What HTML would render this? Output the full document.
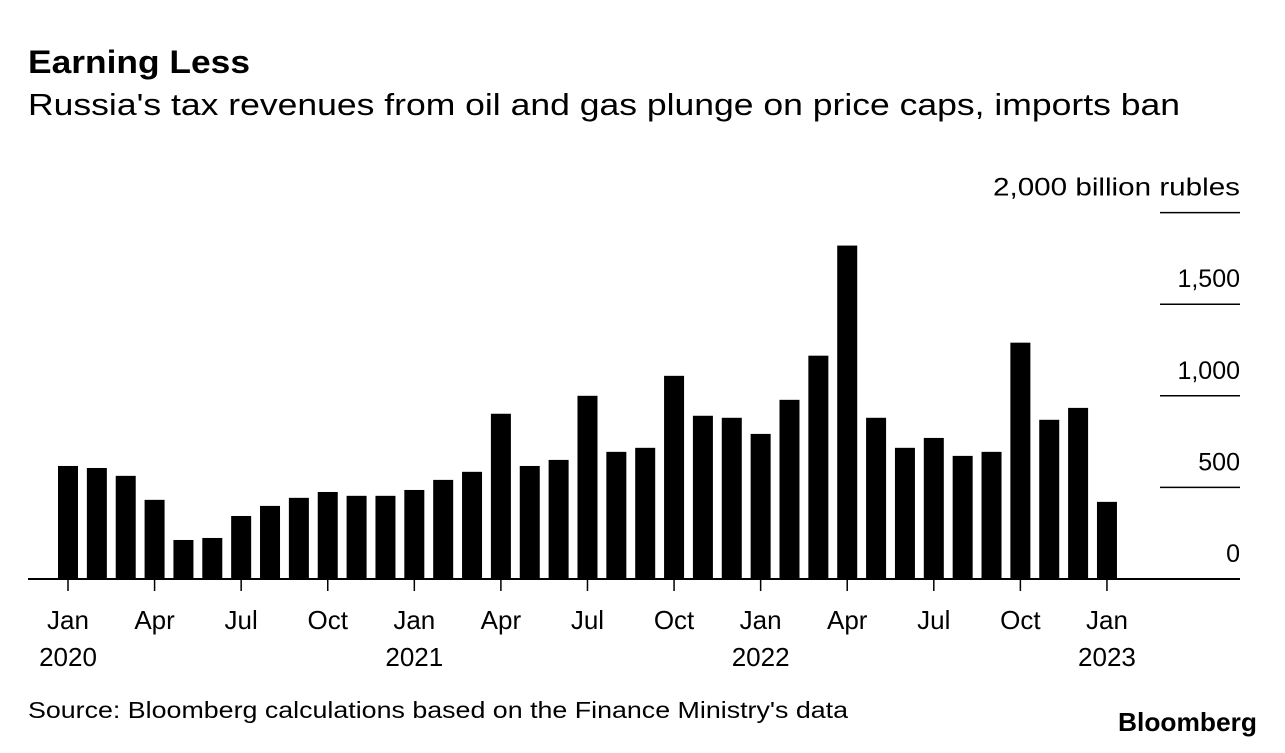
<!DOCTYPE html>
<html><head><meta charset="utf-8"><style>
body{margin:0;background:#fff;font-family:"Liberation Sans",sans-serif;}
</style></head><body>
<svg width="1285" height="748" xmlns="http://www.w3.org/2000/svg" font-family="Liberation Sans, sans-serif">
<text x="28" y="73" font-size="32" font-weight="bold" textLength="222" lengthAdjust="spacingAndGlyphs">Earning Less</text>
<text x="28" y="115" font-size="31" textLength="1152" lengthAdjust="spacingAndGlyphs">Russia's tax revenues from oil and gas plunge on price caps, imports ban</text>
<g id="yaxis"></g>
<g id="bars"></g>
<g id="xaxis"></g>
<text x="28" y="718" font-size="23" textLength="820" lengthAdjust="spacingAndGlyphs">Source: Bloomberg calculations based on the Finance Ministry's data</text>
<text x="1257" y="731" font-size="26" font-weight="bold" text-anchor="end" textLength="139" lengthAdjust="spacingAndGlyphs">Bloomberg</text>
</svg>
<script>
const values=[617,606,563,432,213,224,344,399,443,475,454,454,486,541,585,902,617,650,1000,694,716,1109,891,880,792,978,1219,1820,880,716,770,672,694,1290,869,934,421];
const yTicks=[0,500,1000,1500,2000];
const yTickLabels=["0","500","1,000","1,500","2,000 billion rubles"];
const xTickIdx=[0,3,6,9,12,15,18,21,24,27,30,33,36];
const xTickLabels=["Jan","Apr","Jul","Oct","Jan","Apr","Jul","Oct","Jan","Apr","Jul","Oct","Jan"];
const yearIdx=[0,12,24,36];
const yearLabels=["2020","2021","2022","2023"];
const NS="http://www.w3.org/2000/svg";
const y=v=>579-v*0.1832;
const x=i=>68+i*28.86;
function mk(t,a,p,txt){const e=document.createElementNS(NS,t);for(const k in a)e.setAttribute(k,a[k]);if(txt!==undefined)e.textContent=txt;p.appendChild(e);return e;}
const ya=document.getElementById('yaxis'),ba=document.getElementById('bars'),xa=document.getElementById('xaxis');
yTicks.forEach((v,i)=>{
 if(v>0){const l=mk('line',{x1:1160,x2:1240,y1:y(v),y2:y(v),stroke:'#000','stroke-width':1.5},ya);
 
 }
 const a={x:1240,y:y(v)-17,'font-size':25,'text-anchor':'end'};
 if(v===2000){a.textLength=247;a.lengthAdjust='spacingAndGlyphs';}
 const t=mk('text',a,ya,yTickLabels[i]);
 
 
});
values.forEach((v,i)=>{
 const r=mk('rect',{x:x(i)-10,y:y(v),width:20,height:579-y(v),fill:'#000'},ba);
 
 
});
const base=mk('line',{x1:28,x2:1240,y1:579,y2:579,stroke:'#000','stroke-width':2},xa);


xTickIdx.forEach((idx,i)=>{
 const l=mk('line',{x1:x(idx),x2:x(idx),y1:579,y2:591,stroke:'#000','stroke-width':1.5},xa);
 
 
 const t=mk('text',{x:x(idx),y:629,'font-size':26,'text-anchor':'middle'},xa,xTickLabels[i]);
 
 
});
yearIdx.forEach((idx,i)=>{
 const t=mk('text',{x:x(idx),y:666,'font-size':26,'text-anchor':'middle'},xa,yearLabels[i]);
 
 
});
</script>
</body></html>
